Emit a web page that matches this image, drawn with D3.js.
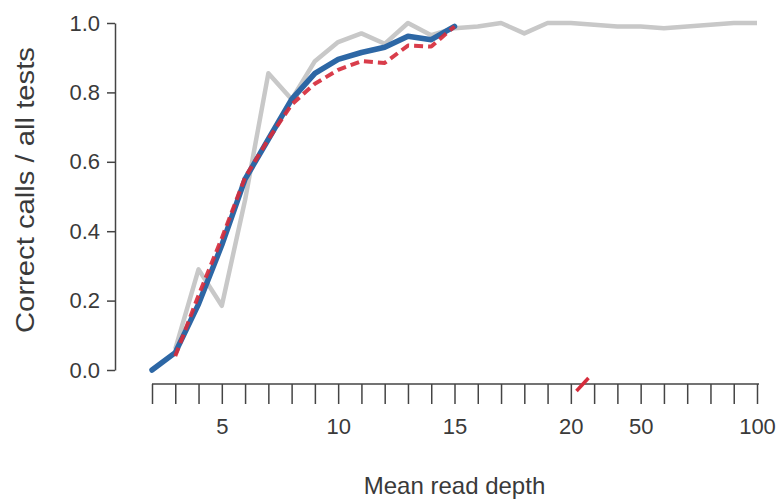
<!DOCTYPE html>
<html>
<head>
<meta charset="utf-8">
<script src="https://cdnjs.cloudflare.com/ajax/libs/d3/7.8.5/d3.min.js"></script>
<style>
  body { margin: 0; background: #fff; }
  text { font-family: "Liberation Sans", Arial, sans-serif; fill: #3a3a3a; }
  .axis path, .axis line { stroke: #444; stroke-width: 1.5; }
</style>
</head>
<body>
<div id="chart"></div>
<script>
// depths on the x axis (ordinal, with a break after 20)
var depths = ["2","3","4","5","6","7","8","9","10","11","12","13","14","15",
              "16","17","18","19","20","30","40","50","60","70","80","90","100"];
var depthLabels = ["5","10","15","20","50","100"];
var yTicks = [0, 0.2, 0.4, 0.6, 0.8, 1.0];

// fraction of correct calls per depth (null = no value)
var grayCalls = [null, 0.06, 0.29, 0.185, 0.49, 0.855, 0.78, 0.89, 0.945, 0.97, 0.94, 1.0, 0.965, 0.985,
                 0.99, 1.0, 0.97, 1.0, 1.0, 0.995, 0.99, 0.99, 0.985, 0.99, 0.995, 1.0, 1.0];
var blueCalls = [0.0, 0.05, 0.19, 0.36, 0.55, 0.665, 0.78, 0.855, 0.895, 0.915, 0.93, 0.962, 0.952, 0.99];
var redCalls  = [null, 0.04, 0.215, 0.38, 0.555, 0.665, 0.765, 0.825, 0.865, 0.89, 0.885, 0.935, 0.932, 0.99];

var margin = { top: 23, right: 23, bottom: 134, left: 152 };
var width  = 780 - margin.left - margin.right;
var height = 504 - margin.top - margin.bottom;

var svg = d3.select("#chart")
    .append("svg")
    .attr("width", 780)
    .attr("height", 504);

var g = svg.append("g")
    .attr("transform", "translate(" + margin.left + "," + margin.top + ")");

var x = d3.scalePoint()
    .domain(depths)
    .range([0, width]);

var y = d3.scaleLinear()
    .domain([0, 1])
    .range([height, 0]);

// y axis, offset to the left of the plot
g.append("g")
    .attr("class", "axis y")
    .attr("transform", "translate(-37,0)")
    .call(d3.axisLeft(y).tickValues(yTicks).tickSize(8).tickSizeOuter(0).tickPadding(7)
          .tickFormat(d3.format(".1f")))
    .selectAll("text")
    .style("font-size", "22px");

// x axis, offset below the plot
var xAxisG = g.append("g")
    .attr("class", "axis x")
    .attr("transform", "translate(0," + (height + 14) + ")")
    .call(d3.axisBottom(x).tickSize(20).tickSizeOuter(0).tickPadding(14)
          .tickFormat(function(d) { return depthLabels.indexOf(d) >= 0 ? d : ""; }));
xAxisG.selectAll("text").style("font-size", "22px");
xAxisG.select(".domain").attr("d", "M0,0H" + (width + 2));

// axis break marker between 20 and 30
var bx = (x("20") + x("30")) / 2;
xAxisG.append("path")
    .attr("d", "M" + (bx - 6) + ",7L" + (bx + 6) + ",-6")
    .style("stroke", "#d62c3c")
    .style("stroke-width", 3.5);

function lineFor(values) {
    return d3.line()
        .defined(function(d) { return d != null; })
        .x(function(d, i) { return x(depths[i]); })
        .y(function(d) { return y(d); })(values);
}

g.append("path")
    .attr("d", lineFor(grayCalls))
    .attr("fill", "none")
    .attr("stroke", "#c8c8c8")
    .attr("stroke-width", 4.5)
    .attr("stroke-linejoin", "round");

g.append("path")
    .attr("d", lineFor(blueCalls))
    .attr("fill", "none")
    .attr("stroke", "#2d67a5")
    .attr("stroke-width", 5.5)
    .attr("stroke-linecap", "round")
    .attr("stroke-linejoin", "round");

g.append("path")
    .attr("d", lineFor(redCalls))
    .attr("fill", "none")
    .attr("stroke", "#d62c3c")
    .attr("stroke-width", 4)
    .attr("stroke-dasharray", "9,5")
    .attr("stroke-linejoin", "round")
    .attr("stroke-opacity", 0.92);

// axis titles
svg.append("text")
    .attr("text-anchor", "middle")
    .attr("x", margin.left + width / 2)
    .attr("y", 494)
    .style("font-size", "24px")
    .text("Mean read depth");

svg.append("text")
    .attr("transform", "rotate(-90)")
    .attr("text-anchor", "middle")
    .attr("x", -190)
    .attr("y", 34)
    .style("font-size", "26px")
    .attr("textLength", 286)
    .attr("lengthAdjust", "spacingAndGlyphs")
    .text("Correct calls / all tests");
</script>
</body>
</html>
